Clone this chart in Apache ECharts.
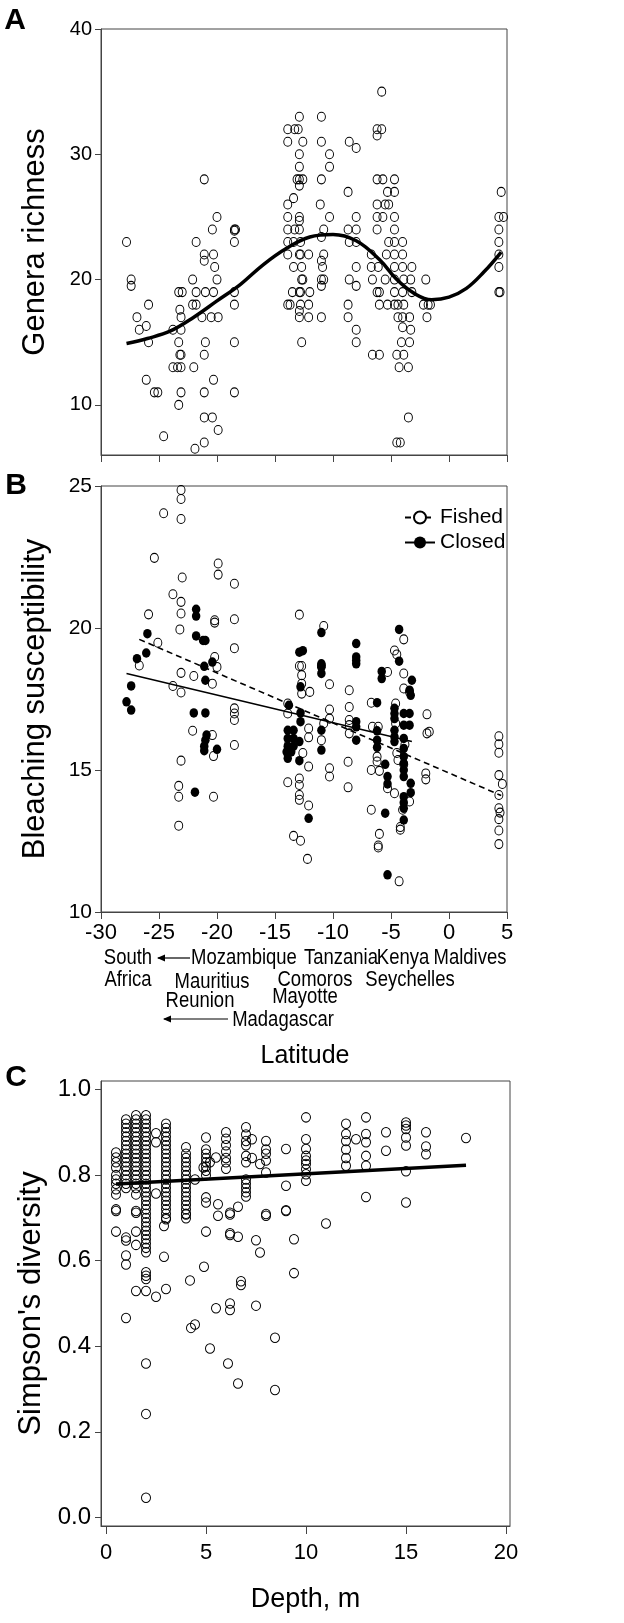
<!DOCTYPE html>
<html><head><meta charset="utf-8">
<script src="https://cdn.jsdelivr.net/npm/echarts@6/dist/echarts.min.js"></script>
<style>html,body{margin:0;padding:0;background:#fff}#c{width:624px;height:1623px}</style>
</head><body><div id="c"></div><script>
// ---------- Panel A: genera richness vs latitude ----------
const richnessPts = [
[-5.8,35],[-12.9,33],[-11.0,33],[-13.9,32],[-13.3,32],[-13.0,32],[-6.2,32],[-5.8,32],[-6.2,31.5],[-13.9,31],[-12.6,31],[-11.0,31],[-8.6,31],[-8.0,30.5],[-12.9,30],[-10.3,30],[-12.9,29],[-10.3,29],
[-21.1,28],[-13.1,28],[-12.9,28],[-12.6,28],[-12.9,27.5],[-11.0,28],[-6.2,28],[-5.7,28],[-4.7,28],[-8.7,27],[-5.3,27],[-4.7,27],[4.5,27],[-13.4,26.5],[-13.9,26],[-11.1,26],[-6.2,26],[-5.5,26],[-5.2,26],
[-20.0,25],[-13.9,25],[-12.9,25],[-10.3,25],[-8.0,25],[-6.2,25],[-5.7,25],[-4.7,25],[4.3,25],[4.7,25],[-12.9,24.7],[-20.4,24],[-18.5,24],[-18.4,24],[-13.9,24],[-13.3,24],[-12.9,24],[-10.8,24],[-8.7,24],[-8.0,24],[-6.2,24],[-4.7,24],[4.3,24],
[-27.8,23],[-21.8,23],[-18.5,23],[-18.5,23.9],[-13.9,23],[-13.4,23],[-12.8,23],[-11.0,23.4],[-8.6,23],[-8.0,23],[-5.2,23],[-4.7,23],[-4.0,23],[4.3,23],
[-21.1,22],[-20.3,22],[-21.1,21.5],[-13.9,22],[-12.9,22],[-12.8,22],[-12.1,22],[-10.8,22],[-6.7,22],[-5.4,22],[-4.7,22],[-4.0,22],[4.3,22],
[-20.2,21],[-13.4,21],[-12.7,21],[-11.0,21.5],[-10.9,21],[-8.0,21],[-6.7,21],[-6.1,21],[-4.7,21],[-4.0,21],[-3.2,21],[4.3,21],
[-27.4,20],[-27.4,19.5],[-22.1,20],[-20.0,20],[-12.6,20],[-12.7,20],[-11.0,20],[-10.8,20],[-11.0,19.5],[-8.6,20],[-6.6,20],[-5.5,20],[-4.7,20],[-3.9,20],[-3.3,20],[-2.0,20],[-8.0,19.5],
[-23.3,19],[-23.0,19],[-21.8,19],[-21.0,19],[-20.3,19],[-18.5,19],[-13.5,19],[-12.9,19],[-12.8,19],[-12.0,19],[-6.2,19],[-6.0,19],[-4.7,19],[-4.0,19],[-3.2,19],[4.3,19],[4.4,19],
[-25.9,18],[-22.1,18],[-21.8,18],[-18.5,18],[-13.9,18],[-13.7,18],[-12.8,18],[-12.1,18],[-12.9,17.5],[-8.7,18],[-6.0,18],[-5.3,18],[-4.7,18],[-4.4,18],[-3.9,18],[-2.2,18],[-1.8,18],[-1.6,18],[-23.2,17.6],
[-26.9,17],[-23.1,17],[-21.3,17],[-20.5,17],[-19.9,17],[-12.9,17],[-12.1,17],[-11.0,17],[-8.7,17],[-4.4,17],[-4.0,17],[-3.4,17],[-1.9,17],
[-26.7,16],[-26.1,16.3],[-23.8,16],[-23.1,16],[-8.0,16],[-4.0,16.2],[-3.3,16],
[-25.9,15],[-23.3,15],[-21.0,15],[-18.5,15],[-12.7,15],[-8.0,15],[-4.1,15],[-3.4,15],
[-23.2,14],[-23.1,14],[-21.1,14],[-6.6,14],[-6.0,14],[-4.5,14],[-3.9,14],
[-23.8,13],[-23.4,13],[-23.1,13],[-22.0,13],[-4.3,13],[-3.5,13],
[-26.1,12],[-20.3,12],[-25.4,11],[-25.1,11],[-23.1,11],[-21.1,11],[-18.5,11],[-23.3,10],
[-21.1,9],[-20.4,9],[-3.5,9],[-19.9,8],[-24.6,7.5],[-21.1,7],[-4.5,7],[-4.2,7],[-21.9,6.5]
];
const richnessFit = [[-27.8,14.9],[-26,15.3],[-24,15.9],[-22,17.0],[-20,18.3],[-18,19.6],[-16,21.2],[-14,22.5],[-12,23.4],[-10,23.6],[-8,23.1],[-6,21.6],[-4.5,20.0],[-3,18.9],[-1.5,18.4],[0,18.6],[1.5,19.3],[3,20.6],[4.5,22.2]];

// ---------- Panel B: bleaching susceptibility vs latitude ----------
const fishedPts = [
[-23.1,24.86],[-23.1,24.54],[-23.1,23.84],[-24.6,24.04],[-25.4,22.47],[-19.9,22.27],[-19.9,21.88],[-23.0,21.78],[-18.5,21.56],[-23.8,21.19],[-23.1,20.92],[-23.1,20.51],[-25.9,20.48],[-20.2,20.27],[-20.2,20.19],[-18.5,20.31],[-23.2,19.95],[-12.9,20.47],[-10.8,20.07],[-25.1,19.48],[-18.5,19.29],[-3.9,19.6],[-4.7,19.21],[-4.5,19.07],[-26.7,18.68],[-20.2,18.98],[-12.9,18.66],[-12.7,18.66],[-11.0,18.68],
[-23.1,18.42],[-23.1,17.73],[-22.0,18.31],[-23.8,17.96],[-20.0,18.63],[-20.4,18.04],[-18.5,17.17],[-18.5,16.99],[-18.5,16.76],[-18.5,15.88],[-22.1,16.38],[-20.4,16.23],[-20.3,15.49],[-23.1,15.33],[-23.3,14.44],[-23.3,14.06],[-20.3,14.06],[-23.3,13.04],
[-12.7,18.34],[-12.7,18.04],[-12.7,17.69],[-12.0,17.75],[-10.3,18.02],[-8.6,17.81],[-8.6,17.22],[-10.3,17.13],[-10.3,16.81],[-10.8,16.64],[-8.6,16.76],[-8.6,16.58],[-8.6,16.29],[-6.7,17.37],[-5.3,18.45],[-3.9,18.4],[-3.9,17.87],[-3.4,17.75],[-1.9,16.96],[-1.9,16.29],[-1.7,16.35],[-6.6,16.52],[-6.1,16.52],[-6.2,15.47],[-6.2,15.3],[-6.7,15.0],[-6.0,14.97],[-4.6,17.34],[-4.6,16.64],[-4.5,15.6],[-4.4,15.35],[-3.8,15.9],[-3.9,15.2],[-4.0,13.6],
[-13.9,17.34],[-13.9,16.99],[-13.8,15.94],[-12.1,16.46],[-12.1,16.15],[-12.6,15.6],[-11.0,16.05],[-12.1,15.12],[-13.9,14.57],[-12.9,14.7],[-12.9,14.47],[-12.9,14.12],[-12.9,13.95],[-10.3,15.06],[-10.3,14.77],[-8.7,15.29],[-8.7,14.39],[-5.3,14.36],[-4.7,14.18],[-3.4,13.89],[-12.1,13.75],[-2.0,14.88],[-2.0,14.67],[-6.7,13.6],[-13.4,12.68],[-12.8,12.51],[-12.2,11.87],[-6.0,12.75],[-6.1,12.34],[-6.1,12.27],[-4.2,12.99],[-4.2,12.9],[-4.3,11.08],
[4.3,16.19],[4.3,15.91],[4.3,15.61],[4.3,14.82],[4.6,14.51],[4.3,14.12],[4.3,13.65],[4.4,13.5],[4.3,13.27],[4.3,12.87],[4.3,12.39]
];
const closedPts = [
[-21.8,20.66],[-21.8,20.42],[-26.0,19.8],[-21.8,19.72],[-21.2,19.56],[-21.0,19.56],[-11.0,19.84],[-4.3,19.95],[-8.0,19.45],[-12.9,19.15],[-12.6,19.2],[-26.1,19.12],[-26.9,18.92],[-11.0,18.74],[-11.0,18.62],[-8.0,18.98],[-8.0,18.86],[-8.0,18.74],[-20.4,18.8],[-21.1,18.65],[-4.3,18.83],[-5.8,18.47],
[-27.4,17.96],[-27.8,17.4],[-27.4,17.11],[-21.0,18.16],[-22.0,17.01],[-21.0,17.01],[-20.9,16.23],[-21.0,16.05],[-21.1,15.84],[-21.1,15.68],[-20.0,15.73],[-21.9,14.22],
[-12.8,17.93],[-13.8,17.28],[-12.8,17.01],[-12.8,16.7],[-13.9,16.4],[-13.4,16.4],[-13.9,16.11],[-13.4,16.11],[-13.9,15.84],[-13.4,15.84],[-14.0,15.64],[-13.6,15.64],[-13.9,15.41],[-12.9,16.0],[-12.9,15.33],[-12.1,13.3],
[-11.0,18.4],[-11.0,16.4],[-11.0,15.7],[-8.0,16.7],[-8.0,16.52],[-8.0,16.05],[-5.8,18.22],[-6.2,17.37],[-6.2,16.38],[-6.2,16.05],[-6.2,15.8],[-5.5,15.2],[-5.3,14.77],[-5.3,14.51],[-5.5,13.48],[-5.3,11.31],
[-4.7,17.17],[-4.7,16.99],[-4.7,16.81],[-3.9,16.99],[-3.4,16.99],[-3.9,16.58],[-3.4,16.58],[-4.7,16.4],[-4.7,16.17],[-4.7,16.0],[-3.9,16.11],[-3.9,15.76],[-3.9,15.47],[-3.9,15.23],[-3.9,15.0],[-3.9,14.77],[-3.3,14.53],[-3.3,14.2],[-3.9,14.06],[-3.9,13.85],[-3.9,13.65],[-3.9,13.24],[-3.2,18.16],[-3.4,17.81],[-3.3,17.63]
];
const fishedFit = [[-26.7,19.6],[4.5,14.1]];
const closedFit = [[-27.8,18.4],[-3.2,16.0]];

// ---------- Panel C: Simpson's diversity vs depth ----------
const simpsonPts = [
[0.5,0.853],[0.5,0.841],[0.5,0.83],[0.5,0.818],[0.5,0.80],[0.5,0.79],[0.5,0.78],[0.5,0.767],[0.5,0.755],[0.5,0.72],[0.5,0.716],[0.5,0.668],
[1,0.93],[1,0.92],[1,0.91],[1,0.90],[1,0.89],[1,0.88],[1,0.87],[1,0.86],[1,0.85],[1,0.84],[1,0.83],[1,0.82],[1,0.81],[1,0.80],[1,0.79],[1,0.78],[1,0.77],[1,0.654],[1,0.647],[1,0.612],[1,0.591],[1,0.466],
[1.5,0.94],[1.5,0.93],[1.5,0.92],[1.5,0.91],[1.5,0.90],[1.5,0.89],[1.5,0.88],[1.5,0.87],[1.5,0.86],[1.5,0.85],[1.5,0.84],[1.5,0.83],[1.5,0.82],[1.5,0.81],[1.5,0.80],[1.5,0.79],[1.5,0.78],[1.5,0.77],[1.5,0.755],[1.5,0.716],[1.5,0.712],[1.5,0.668],[1.5,0.637],[1.5,0.529],
[2,0.94],[2,0.93],[2,0.92],[2,0.91],[2,0.90],[2,0.89],[2,0.88],[2,0.87],[2,0.86],[2,0.85],[2,0.84],[2,0.83],[2,0.82],[2,0.81],[2,0.80],[2,0.79],[2,0.78],[2,0.77],[2,0.76],[2,0.75],[2,0.74],[2,0.73],[2,0.72],[2,0.71],[2,0.70],[2,0.69],[2,0.68],[2,0.67],[2,0.66],[2,0.65],[2,0.64],[2,0.63],[2,0.62],[2,0.573],[2,0.565],[2,0.557],[2,0.529],[2,0.36],[2,0.242],[2,0.046],
[2.5,0.898],[2.5,0.877],[2.5,0.757],[2.5,0.516],
[3,0.92],[3,0.91],[3,0.90],[3,0.89],[3,0.88],[3,0.87],[3,0.86],[3,0.85],[3,0.84],[3,0.83],[3,0.82],[3,0.81],[3,0.80],[3,0.79],[3,0.78],[3,0.77],[3,0.76],[3,0.75],[3,0.74],[3,0.73],[3,0.72],[3,0.71],[3,0.70],[3,0.697],[3,0.534],[2.9,0.681],[2.9,0.609],
[4,0.865],[4,0.85],[4,0.84],[4,0.83],[4,0.82],[4,0.81],[4,0.80],[4,0.79],[4,0.78],[4,0.77],[4,0.76],[4,0.75],[4,0.74],[4,0.73],[4,0.72],[4,0.71],[4,0.708],[4,0.699],
[4.2,0.554],[4.25,0.443],[4.45,0.451],[4.45,0.79],
[5,0.888],[5,0.86],[5,0.85],[5,0.84],[5,0.83],[5,0.82],[5,0.81],[5,0.80],[5,0.748],[5,0.736],[5,0.668],[4.9,0.586],[4.87,0.818],[5.2,0.83],
[5.5,0.841],[5.6,0.732],[5.6,0.705],[5.5,0.489],[5.2,0.395],
[6,0.9],[6,0.885],[6,0.87],[6,0.855],[6,0.84],[6,0.83],[6,0.815],[6.2,0.712],[6.2,0.708],[6.2,0.664],[6.2,0.66],[6.2,0.5],[6.2,0.485],[6.1,0.36],
[6.6,0.726],[6.6,0.656],[6.75,0.552],[6.75,0.543],[6.6,0.313],
[7,0.912],[7,0.895],[7,0.88],[7,0.87],[7,0.845],[7,0.83],[7,0.79],[7,0.78],[7,0.77],[7,0.76],[7,0.75],[7.3,0.884],[7.3,0.84],[7.5,0.648],[7.5,0.495],[7.7,0.826],[7.7,0.619],
[8,0.88],[8,0.86],[8,0.85],[8,0.834],[8,0.806],[8,0.709],[8,0.705],
[8.45,0.42],[8.45,0.298],[9,0.861],[9,0.775],[9,0.718],[9,0.716],[9.4,0.65],[9.4,0.571],
[10,0.935],[10,0.884],[10,0.861],[10,0.845],[10,0.834],[10,0.826],[10,0.814],[10,0.802],[10,0.787],
[11,0.687],
[12,0.92],[12,0.896],[12,0.88],[12,0.86],[12,0.84],[12,0.822],[12.5,0.884],
[13,0.935],[13,0.896],[13,0.877],[13,0.845],[13,0.822],[13,0.749],
[14,0.9],[14,0.857],
[15,0.923],[15,0.916],[15,0.908],[15,0.888],[15,0.869],[15,0.809],[15,0.736],
[16,0.9],[16,0.867],[16,0.849],
[18,0.887]
];
const simpsonFit = [[0.5,0.779],[18,0.823]];

const latTicks = [-30,-25,-20,-15,-10,-5,0,5];
const richTicks = [10,20,30,40];
const depthTicks = [0,5,10,15,20];
const simpTicks = [0,0.2,0.4,0.6,0.8,1.0];

const REG = '"Liberation Sans", Arial, Helvetica, sans-serif';
const AX = '#444';

function gridBox(top, height, width) {
  return {left: 101, top: top, width: width, height: height, show: true, borderColor: AX, borderWidth: 1, backgroundColor: 'transparent', containLabel: false};
}
function baseAxis(extra) {
  return Object.assign({
    type: 'value',
    axisLine: {show: true, onZero: false, lineStyle: {color: AX, width: 1}},
    axisTick: {show: true, inside: false, length: 6, lineStyle: {color: AX, width: 1}},
    splitLine: {show: false},
    axisLabel: {color: '#000', fontFamily: REG}
  }, extra);
}
const openStyle = {color: 'rgba(0,0,0,0)', borderColor: '#000', borderWidth: 1, opacity: 1};

// annotation texts below panel B (label, centre x, centre y)
const countries = [
  ['South', 128, 958], ['Mozambique', 244, 958], ['Tanzania', 341, 958], ['Kenya', 403, 958], ['Maldives', 470, 958],
  ['Africa', 128, 980], ['Mauritius', 212, 982], ['Comoros', 315, 980], ['Seychelles', 410, 980],
  ['Reunion', 200, 1001], ['Mayotte', 305, 997], ['Madagascar', 283, 1020]
];
const graphics = [];
countries.forEach(c => graphics.push({type: 'text', x: c[1], y: c[2], scaleX: 0.84, style: {text: c[0], x: 0, y: 0, fill: '#000', font: '22px ' + REG, textAlign: 'center', textVerticalAlign: 'middle'}}));
function arrow(x1, x2, y) {
  graphics.push({type: 'line', shape: {x1: x1, y1: y, x2: x2 + 1, y2: y}, style: {stroke: '#000', lineWidth: 1.2}});
  graphics.push({type: 'polygon', shape: {points: [[x2, y], [x2 + 8, y - 3.5], [x2 + 8, y + 3.5]]}, style: {fill: '#000'}});
}
arrow(190, 157, 958);
arrow(228, 163, 1019);
graphics.push({type: 'text', x: 305, y: 1056, style: {text: 'Latitude', fill: '#000', font: '25px ' + REG, textAlign: 'center', textVerticalAlign: 'middle'}});
[['A', 15, 21], ['B', 16, 486], ['C', 16, 1078]].forEach(l => graphics.push({type: 'text', x: l[1], y: l[2], style: {text: l[0], fill: '#000', font: 'bold 30px ' + REG, textAlign: 'center', textVerticalAlign: 'middle'}}));

const chart = echarts.init(document.getElementById('c'), null, {renderer: 'canvas'});
chart.setOption({
  animation: false,
  textStyle: {fontFamily: REG},
  grid: [gridBox(29, 426, 406), gridBox(486, 426, 406), gridBox(1081, 445, 409)],
  legend: {
    show: true, left: 399, top: 502, orient: 'vertical', itemWidth: 30, itemHeight: 15, itemGap: 4,
    data: ['Fished', 'Closed'], selectedMode: false,
    textStyle: {fontSize: 21, fontFamily: REG, color: '#000'}
  },
  xAxis: [
    baseAxis({gridIndex: 0, min: -30, max: 5, interval: 5, axisLabel: {show: false}, axisTick: {show: true, length: 7, lineStyle: {color: AX}}}),
    baseAxis({gridIndex: 1, min: -30, max: 5, interval: 5, axisTick: {show: true, length: 7, lineStyle: {color: AX}},
      axisLabel: {show: true, color: '#000', fontFamily: REG, fontSize: 22, margin: 10}}),
    baseAxis({gridIndex: 2, min: -0.25, max: 20.2,
      axisTick: {show: true, length: 8, customValues: depthTicks, lineStyle: {color: AX}},
      axisLabel: {show: true, customValues: depthTicks, color: '#000', fontFamily: REG, fontSize: 22, margin: 16},
      name: 'Depth, m', nameLocation: 'middle', nameGap: 60, nameTextStyle: {fontSize: 27, color: '#000', fontFamily: REG}})
  ],
  yAxis: [
    baseAxis({gridIndex: 0, min: 6, max: 40,
      axisTick: {show: true, length: 6, customValues: richTicks, lineStyle: {color: AX}},
      axisLabel: {show: true, customValues: richTicks, color: '#000', fontFamily: REG, fontSize: 20, margin: 9},
      name: 'Genera richness', nameLocation: 'middle', nameGap: 50, nameTextStyle: {fontSize: 31, color: '#000', fontFamily: REG}}),
    baseAxis({gridIndex: 1, min: 10, max: 25, interval: 5,
      axisLabel: {show: true, color: '#000', fontFamily: REG, fontSize: 21, margin: 9},
      name: 'Bleaching susceptibility', nameLocation: 'middle', nameGap: 50, nameTextStyle: {fontSize: 31, color: '#000', fontFamily: REG}}),
    baseAxis({gridIndex: 2, min: -0.02, max: 1.02,
      axisTick: {show: true, length: 6, customValues: simpTicks, lineStyle: {color: AX}},
      axisLabel: {show: true, customValues: simpTicks, color: '#000', fontFamily: REG, fontSize: 24, margin: 10, formatter: v => v.toFixed(1)},
      name: "Simpson's diversity", nameLocation: 'middle', nameGap: 50, nameTextStyle: {fontSize: 31, color: '#000', fontFamily: REG}})
  ],
  series: [
    {type: 'line', name: 'Fished', xAxisIndex: 1, yAxisIndex: 1, data: fishedFit, showSymbol: false, symbol: 'circle', symbolSize: 12,
      itemStyle: {color: '#fff', borderColor: '#000', borderWidth: 1.2}, lineStyle: {color: '#000', width: 1.6, type: [6, 4]}, z: 5, silent: true},
    {type: 'line', name: 'Closed', xAxisIndex: 1, yAxisIndex: 1, data: closedFit, showSymbol: false, symbol: 'circle', symbolSize: 12,
      itemStyle: {color: '#000', borderColor: '#000'}, lineStyle: {color: '#000', width: 1.5, type: 'solid'}, z: 5, silent: true},
    {type: 'scatter', name: 'richness', xAxisIndex: 0, yAxisIndex: 0, data: richnessPts, symbol: 'circle', symbolSize: [8, 9], itemStyle: openStyle, z: 2, silent: true},
    {type: 'line', name: 'richness fit', xAxisIndex: 0, yAxisIndex: 0, data: richnessFit, smooth: 0.4, showSymbol: false, lineStyle: {color: '#000', width: 3.5}, z: 4, silent: true},
    {type: 'scatter', name: 'fished sites', xAxisIndex: 1, yAxisIndex: 1, data: fishedPts, symbol: 'circle', symbolSize: [8, 9], itemStyle: openStyle, z: 2, silent: true},
    {type: 'scatter', name: 'closed sites', xAxisIndex: 1, yAxisIndex: 1, data: closedPts, symbol: 'circle', symbolSize: [8.5, 9.5], itemStyle: {color: '#000', opacity: 1}, z: 3, silent: true},
    {type: 'scatter', name: 'simpson', xAxisIndex: 2, yAxisIndex: 2, data: simpsonPts, symbol: 'circle', symbolSize: [9, 9.5], itemStyle: openStyle, z: 2, silent: true},
    {type: 'line', name: 'simpson fit', xAxisIndex: 2, yAxisIndex: 2, data: simpsonFit, showSymbol: false, lineStyle: {color: '#000', width: 3.5}, z: 4, silent: true}
  ],
  graphic: graphics
});
</script></body></html>
